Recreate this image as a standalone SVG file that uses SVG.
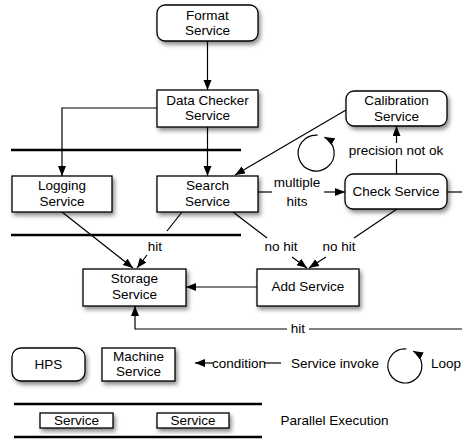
<svg xmlns="http://www.w3.org/2000/svg" width="462" height="442" viewBox="0 0 462 442">
<style>
text{font-family:"Liberation Sans",Arial,Helvetica,sans-serif;font-size:13.5px;fill:#000;text-anchor:middle}
.box{fill:#fff;stroke:#000;stroke-width:1.3;filter:url(#sh)}
.e{fill:none;stroke:#000;stroke-width:1.2}
.bar{stroke:#000;stroke-width:2.6}
</style>
<defs>
<filter id="sh" x="-20%" y="-30%" width="150%" height="170%">
<feDropShadow dx="2" dy="3" stdDeviation="2" flood-color="#000" flood-opacity="0.45"/>
</filter>
<marker id="a" markerUnits="userSpaceOnUse" markerWidth="11" markerHeight="9" refX="10" refY="4" orient="auto">
<path d="M0,0 L10,4 L0,8 z" fill="#000"/>
</marker>
</defs>
<g id="bars">
<line class="bar" x1="11" y1="150" x2="241" y2="150"/>
<line class="bar" x1="11" y1="235" x2="241" y2="235"/>
<line class="bar" x1="14" y1="404" x2="262" y2="404"/>
<line class="bar" x1="14" y1="437" x2="262" y2="437"/>
</g>
<g id="connectors">
<line class="e" x1="207.5" y1="41" x2="207.5" y2="90" marker-end="url(#a)"/>
<polyline class="e" points="157,108 62,108 62,176" marker-end="url(#a)"/>
<line class="e" x1="207.5" y1="127" x2="207.5" y2="176" marker-end="url(#a)"/>
<line class="e" x1="346" y1="110" x2="235" y2="175" marker-end="url(#a)"/>
<line class="e" x1="258" y1="192" x2="272" y2="192"/>
<line class="e" x1="324" y1="192" x2="345" y2="192" marker-end="url(#a)"/>
<line class="e" x1="396.5" y1="174" x2="396.5" y2="159"/>
<line class="e" x1="396.5" y1="143" x2="396.5" y2="126" marker-end="url(#a)"/>
<line class="e" x1="447" y1="192" x2="462" y2="192"/>
<line class="e" x1="462" y1="329" x2="309" y2="329"/>
<polyline class="e" points="287,329 135,329 135,306" marker-end="url(#a)"/>
<line class="e" x1="62" y1="212" x2="133" y2="268" marker-end="url(#a)"/>
<line class="e" x1="182" y1="212" x2="167" y2="231"/>
<line class="e" x1="147" y1="255" x2="137" y2="268" marker-end="url(#a)"/>
<line class="e" x1="233" y1="212" x2="267" y2="238"/>
<line class="e" x1="292" y1="257" x2="307" y2="268" marker-end="url(#a)"/>
<line class="e" x1="397" y1="209" x2="354" y2="238"/>
<line class="e" x1="326" y1="257" x2="309" y2="268" marker-end="url(#a)"/>
<line class="e" x1="257" y1="287" x2="186" y2="287" marker-end="url(#a)"/>
<path class="e" d="M317.6,135.1 A18,18 0 1 0 324.5,137.1" marker-end="url(#a)"/>
<text x="297" y="187">multiple</text>
<text x="297" y="206">hits</text>
<text x="396" y="155">precision not ok</text>
<text x="298" y="333">hit</text>
<text x="155" y="251">hit</text>
<text x="281" y="251">no hit</text>
<text x="339" y="251">no hit</text>
</g>
<g id="format"><rect class="box" x="157" y="5" width="101" height="36" rx="8"/><text x="207.5" y="19.5">Format</text><text x="207.5" y="35">Service</text></g>
<g id="datachecker"><rect class="box" x="157" y="90" width="101" height="37"/><text x="207.5" y="104.5">Data Checker</text><text x="207.5" y="120">Service</text></g>
<g id="calibration"><rect class="box" x="346" y="91" width="101" height="35" rx="8"/><text x="396.5" y="105">Calibration</text><text x="396.5" y="120.5">Service</text></g>
<g id="logging"><rect class="box" x="12" y="176" width="100" height="36"/><text x="62" y="190">Logging</text><text x="62" y="206">Service</text></g>
<g id="search"><rect class="box" x="157" y="176" width="101" height="36"/><text x="207.5" y="190">Search</text><text x="207.5" y="206">Service</text></g>
<g id="check"><rect class="box" x="345" y="174" width="102" height="35" rx="8"/><text x="396" y="196">Check Service</text></g>
<g id="storage"><rect class="box" x="83" y="269" width="103" height="37"/><text x="134.5" y="283">Storage</text><text x="134.5" y="298.5">Service</text></g>
<g id="add"><rect class="box" x="257" y="269" width="102" height="37"/><text x="308" y="291">Add Service</text></g>
<g id="legend">
<g id="hps"><rect class="box" x="12" y="348" width="73" height="33" rx="9"/><text x="48.5" y="369">HPS</text></g>
<g id="machine"><rect class="box" x="102" y="348" width="73" height="33"/><text x="138.5" y="361">Machine</text><text x="138.5" y="376">Service</text></g>
<line class="e" x1="213" y1="363" x2="195" y2="363" marker-end="url(#a)"/>
<text x="239" y="368">condition</text>
<line class="e" x1="264" y1="363" x2="281" y2="363"/>
<text x="335" y="368">Service invoke</text>
<path class="e" d="M406.5,349 A17,17 0 1 0 413.2,351.1" marker-end="url(#a)"/>
<text x="446" y="368">Loop</text>
<g id="svc1"><rect class="box" x="40" y="413" width="73" height="15"/><text x="76.5" y="425">Service</text></g>
<g id="svc2"><rect class="box" x="157" y="413" width="72" height="15"/><text x="193" y="425">Service</text></g>
<text x="334.5" y="425">Parallel Execution</text>
</g>
</svg>
